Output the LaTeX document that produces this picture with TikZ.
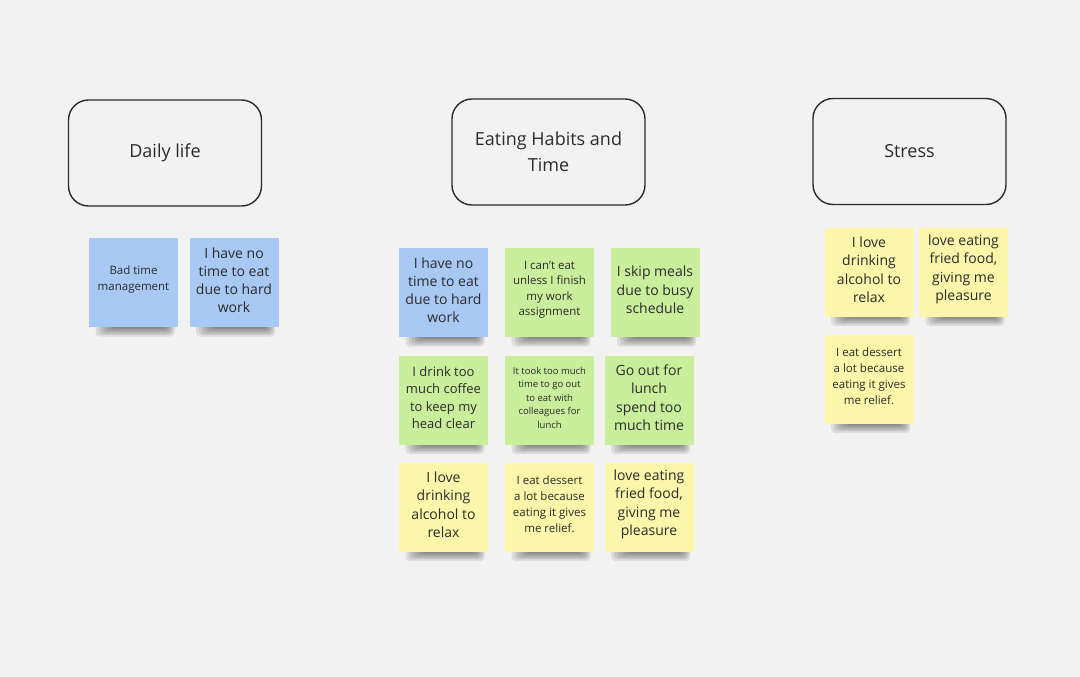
\documentclass[tikz,border=0pt]{standalone}
\usepackage{fontspec}
\setmainfont{Open Sans}
\definecolor{bgc}{HTML}{F2F2F2}
\definecolor{nblue}{HTML}{A8C9F4}
\definecolor{ngreen}{HTML}{C9EE9C}
\definecolor{nyellow}{HTML}{FBF6A9}
\definecolor{ink}{HTML}{2B2B2B}
\newcommand\sticky[7]{%
  \foreach \i in {0,...,6}{%
    \fill[black,opacity=0.085,rounded corners=4pt] (#2-38+3*\i,#3+38) rectangle (#2+41-1.5*\i,#3+54-1.6*\i);
  }%
  \node[note,fill=#4] (#1) at (#2,#3) {};%
  \node[notetext,font=\fontsize{#5}{#6}\selectfont] (#1t) at (#2,#3-2.5) {#7};%
}
\begin{document}
\begin{tikzpicture}[x=1pt,y=-1pt,
  note/.style={minimum width=89pt,minimum height=89pt,inner sep=0pt},
  notetext/.style={inner sep=0pt,align=center,text=ink},
  header/.style={draw=ink,line width=1.4pt,rounded corners=20pt,minimum width=193pt,minimum height=106pt,align=center,text=ink,font=\fontsize{18}{26}\selectfont}]
\fill[bgc] (0,0) rectangle (1080,677);
\useasboundingbox (0,0) rectangle (1080,677);
% headers
\node[header] (daily) at (165,153) {Daily life};
\node[header] (eating) at (548.5,152) {Eating Habits and\\Time};
\node[header] (stress) at (909.5,151.5) {Stress};
% daily life notes
\sticky{d1}{133.5}{282.5}{nblue}{11.5}{16}{Bad time\\management}
\sticky{d2}{234}{282.5}{nblue}{14}{18}{I have no\\time to eat\\due to hard\\work}
% eating habits grid
\sticky{e11}{443.5}{292.5}{nblue}{14}{18}{I have no\\time to eat\\due to hard\\work}
\sticky{e12}{549.5}{292.5}{ngreen}{11.5}{15.5}{I can\symbol{"0027}t eat\\unless I finish\\my work\\assignment}
\sticky{e13}{655}{292.5}{ngreen}{14}{18.5}{I skip meals\\due to busy\\schedule}
\sticky{e21}{443.5}{400}{ngreen}{13}{17.5}{I drink too\\much coffee\\to keep my\\head clear}
\sticky{e22}{549.5}{400}{ngreen}{9.5}{13.5}{It took too much\\time to go out\\to eat with\\colleagues for\\lunch}
\sticky{e23}{649}{400}{ngreen}{14}{18.5}{Go out for\\lunch\\spend too\\much time}
\sticky{e31}{443.5}{507}{nyellow}{14}{18.5}{I love\\drinking\\alcohol to\\relax}
\sticky{e32}{549.5}{507}{nyellow}{11.5}{16}{I eat dessert\\a lot because\\eating it gives\\me relief.}
\sticky{e33}{649}{507}{nyellow}{14}{18.5}{love eating\\fried food,\\giving me\\pleasure}
% stress notes
\sticky{s1}{869}{272}{nyellow}{14}{18.5}{I love\\drinking\\alcohol to\\relax}
\sticky{s2}{963.5}{272}{nyellow}{14}{18.5}{love eating\\fried food,\\giving me\\pleasure}
\sticky{s3}{869}{379}{nyellow}{11.5}{16}{I eat dessert\\a lot because\\eating it gives\\me relief.}
\end{tikzpicture}
\end{document}
